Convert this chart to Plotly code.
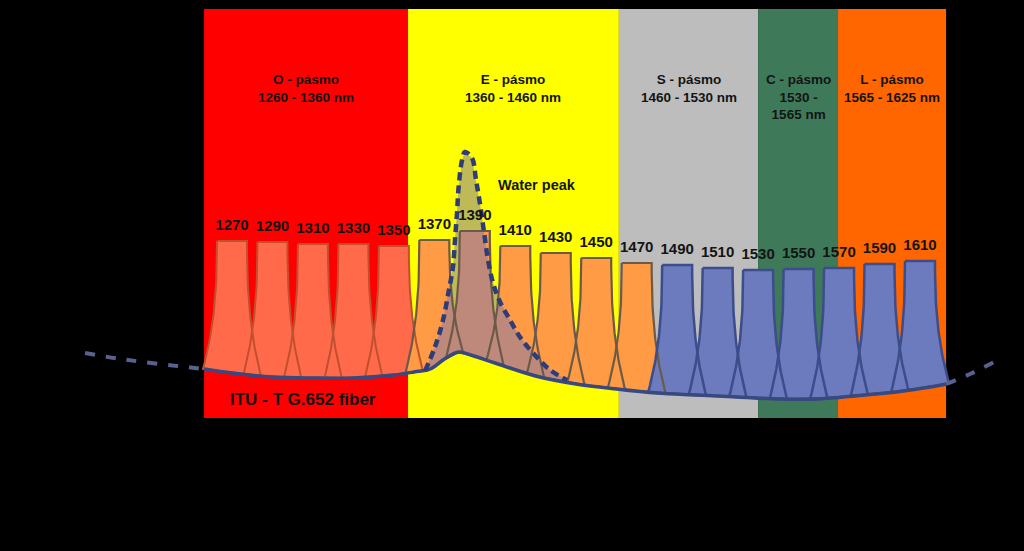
import numpy as np
import plotly.graph_objects as go

# ---------------- data ----------------
# CWDM channels (nm) and their drawn top level (relative dB, schematic)
channels = [1270, 1290, 1310, 1330, 1350, 1370, 1390, 1410, 1430,
            1450, 1470, 1490, 1510, 1530, 1550, 1570, 1590, 1610]
channel_top_db = [-24.1, -24.2, -24.4, -24.4, -24.6, -24.0, -23.1, -24.6, -25.3,
                  -25.8, -26.3, -26.5, -26.8, -27.0, -26.9, -26.8, -26.4, -26.1]
channel_group = ["O"] * 5 + ["E"] * 6 + ["B"] * 7

# Spectral bands (edges as drawn, nm)
band_names = ["O - pásmo<br>1260 - 1360 nm",
              "E - pásmo<br>1360 - 1460 nm",
              "S - pásmo<br>1460 - 1530 nm",
              "C - pásmo<br>1530 -<br>1565 nm",
              "L - pásmo<br>1565 - 1625 nm"]
band_edges = [1256.2, 1357.0, 1461.2, 1530.0, 1569.5, 1622.9]
band_colors = ["#FF0000", "#FFFF00", "#BDBDBD", "#3E7A5A", "#FF6600"]
band_top_db = -0.9
band_bottom_db = -41.8

# ITU-T G.652 fiber attenuation curve (schematic)
fiber_nm = [1256.2, 1270, 1290, 1310, 1330, 1350, 1360, 1368, 1375, 1382, 1388,
            1400, 1420, 1440, 1460, 1480, 1500, 1520, 1540, 1560, 1580, 1600,
            1615, 1622.9]
fiber_db = [-36.9, -37.3, -37.7, -37.8, -37.8, -37.5, -37.2, -36.9, -35.9, -35.2,
            -35.5, -36.3, -37.6, -38.4, -38.9, -39.3, -39.5, -39.7, -39.9, -39.9,
            -39.55, -39.15, -38.7, -38.4]
fiber_left_nm = [1197.4, 1215.0, 1234.4, 1256.2]
fiber_left_db = [-35.3, -35.9, -36.4, -36.9]
fiber_right_nm = [1622.9, 1634.7, 1648.6]
fiber_right_db = [-38.4, -37.4, -36.0]

# Water peak (schematic)
water_nm = [1365.4, 1370.3, 1374.3, 1377.2, 1379.2, 1380.2, 1381.2, 1382.0, 1383.7,
            1385.1, 1388.6, 1390.6, 1392.8, 1394.6, 1396.3, 1398.6, 1402.0, 1407.4,
            1412.3, 1418.8, 1427.2, 1435.6]
water_db = [-37.1, -34.7, -32.0, -29.0, -26.7, -24.0, -21.3, -18.7, -16.0,
            -15.2, -15.8, -18.0, -20.7, -23.3, -25.7, -28.0, -30.0, -32.0,
            -33.7, -35.3, -37.0, -38.0]

# ---------------- styling ----------------
X_RANGE = [1155.35, 1661.40]
Y_RANGE = [-55.1, 0.0]
FONT = "Liberation Sans, Arial, sans-serif"
TXT = "#141414"
fill_col = {"O": "#FF6A4B", "E": "#FF9A45", "B": "#6B7BBE"}
line_col = {"O": "#C0502F", "E": "#6B5A48", "B": "#3D4C8A"}
line_w = {"O": 2.0, "E": 2.2, "B": 2.5}

all_nm = np.array(fiber_left_nm[:-1] + fiber_nm + fiber_right_nm[1:])
all_db = np.array(fiber_left_db[:-1] + fiber_db + fiber_right_db[1:])


def fib(x):
    return np.interp(x, all_nm, all_db)


HW_TOP, HW_BOT = 7.4, 14.3
t = np.linspace(0, 1, 40)


def channel_poly(c, top):
    hw = HW_TOP + (HW_BOT - HW_TOP) * t ** 2.5
    xl = c - hw
    yl = top + t * (fib(c - HW_BOT) - top)
    xr = c + hw
    yr = top + t * (fib(c + HW_BOT) - top)
    xb = np.linspace(c - HW_BOT, c + HW_BOT, 25)
    yb = fib(xb)
    xs = np.concatenate([xl, xb, xr[::-1], [xl[0]]])
    ys = np.concatenate([yl, yb, yr[::-1], [yl[0]]])
    return xs, ys


fig = go.Figure()

# band backgrounds
shapes = []
for i, col in enumerate(band_colors):
    shapes.append(dict(type="rect", xref="x", yref="y", layer="below",
                       x0=band_edges[i], x1=band_edges[i + 1],
                       y0=band_bottom_db, y1=band_top_db,
                       fillcolor=col, line=dict(width=0)))

# channel fills
polys = [channel_poly(c, tp) for c, tp in zip(channels, channel_top_db)]
for (xs, ys), g in zip(polys, channel_group):
    fig.add_trace(go.Scatter(x=xs, y=ys, mode="lines", fill="toself",
                             fillcolor=fill_col[g], line=dict(width=0),
                             hoverinfo="skip", showlegend=False))

# water peak overlay fill
wx = np.array(water_nm)
wy = np.array(water_db)
bx = np.linspace(water_nm[-1], water_nm[0], 40)
by = fib(bx)
fig.add_trace(go.Scatter(x=np.concatenate([wx, bx]), y=np.concatenate([wy, by]),
                         mode="lines", fill="toself",
                         fillcolor="rgba(125,118,175,0.5)", line=dict(width=0),
                         hoverinfo="skip", showlegend=False))

# channel outlines
for (xs, ys), g in zip(polys, channel_group):
    fig.add_trace(go.Scatter(x=xs, y=ys, mode="lines",
                             line=dict(color=line_col[g], width=line_w[g]),
                             hoverinfo="skip", showlegend=False))

# fiber curve
fig.add_trace(go.Scatter(x=fiber_nm, y=fiber_db, mode="lines",
                         line=dict(color="#384880", width=3.5, shape="spline"),
                         hoverinfo="skip", showlegend=False))
for xs, ys in [(fiber_left_nm, fiber_left_db), (fiber_right_nm, fiber_right_db)]:
    fig.add_trace(go.Scatter(x=xs, y=ys, mode="lines",
                             line=dict(color="#59628F", width=4, dash="10px,11px",
                                       shape="spline"),
                             hoverinfo="skip", showlegend=False))

# water peak dashed outline
fig.add_trace(go.Scatter(x=water_nm, y=water_db, mode="lines",
                         line=dict(color="#2E3C78", width=4.5, dash="8px,5px",
                                   shape="spline"),
                         hoverinfo="skip", showlegend=False))

# channel labels
fig.add_trace(go.Scatter(x=channels, y=[v + 1.45 for v in channel_top_db],
                         mode="text", text=[str(c) for c in channels],
                         textposition="middle center",
                         textfont=dict(family=FONT, size=15, color=TXT, weight="bold"),
                         hoverinfo="skip", showlegend=False))

annotations = []
for i, name in enumerate(band_names):
    annotations.append(dict(x=(band_edges[i] + band_edges[i + 1]) / 2, y=-7.0,
                            xref="x", yref="y", text=name, showarrow=False,
                            xanchor="center", yanchor="top", align="center",
                            font=dict(family=FONT, size=13.5, color=TXT, weight="bold")))
annotations.append(dict(x=1420.7, y=-18.5, xref="x", yref="y", text="Water peak",
                        showarrow=False, xanchor="center", yanchor="middle",
                        font=dict(family=FONT, size=14.5, color=TXT, weight="bold")))
annotations.append(dict(x=1305.3, y=-39.9, xref="x", yref="y",
                        text="ITU - T G.652 fiber", showarrow=False,
                        xanchor="center", yanchor="middle",
                        font=dict(family=FONT, size=17, color=TXT, weight="bold")))

fig.update_layout(
    width=1024, height=551,
    margin=dict(l=0, r=0, t=0, b=0),
    paper_bgcolor="black", plot_bgcolor="black",
    shapes=shapes, annotations=annotations,
    xaxis=dict(range=X_RANGE, visible=False, fixedrange=True),
    yaxis=dict(range=Y_RANGE, visible=False, fixedrange=True),
    showlegend=False,
)

fig.write_html("out.html", config={"displayModeBar": False})
